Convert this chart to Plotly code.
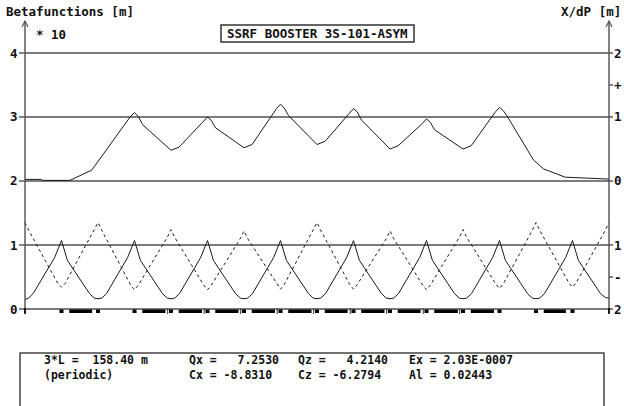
import plotly.graph_objects as go

# ---------------- data ----------------
L_TOTAL = 158.4

# horizontal beta function (solid), in units of 10 m
bx_s = [0.0, 1.0, 2.3, 8.0, 9.9, 11.5, 17.5, 18.8,
        19.8, 20.8, 22.1, 27.8, 29.7, 31.3, 37.3, 38.6,
        39.6, 40.6, 41.9, 47.6, 49.5, 51.1, 57.1, 58.4,
        59.4, 60.4, 61.7, 67.4, 69.3, 70.9, 76.9, 78.2,
        79.2, 80.2, 81.5, 87.2, 89.1, 90.7, 96.7, 98.0,
        99.0, 100.0, 101.3, 107.0, 108.9, 110.5, 116.5, 117.8,
        118.8, 119.8, 121.1, 126.8, 128.7, 130.3, 136.3, 137.6,
        138.6, 139.6, 140.9, 146.6, 148.5, 150.1, 156.1, 157.4,
        158.4]
bx_v = [0.15, 0.17, 0.25, 0.80, 1.07, 0.76, 0.24, 0.17,
        0.16, 0.17, 0.24, 0.80, 1.07, 0.76, 0.24, 0.17,
        0.16, 0.17, 0.24, 0.80, 1.07, 0.76, 0.24, 0.17,
        0.16, 0.17, 0.24, 0.80, 1.07, 0.76, 0.24, 0.17,
        0.16, 0.17, 0.24, 0.80, 1.07, 0.76, 0.24, 0.17,
        0.16, 0.17, 0.24, 0.80, 1.07, 0.76, 0.24, 0.17,
        0.16, 0.17, 0.24, 0.80, 1.07, 0.76, 0.24, 0.17,
        0.16, 0.17, 0.24, 0.80, 1.07, 0.76, 0.24, 0.18,
        0.17]

# vertical beta function (dotted), in units of 10 m
bz_s = [0.0, 1.0, 8.9, 9.9, 10.9, 18.8,
        19.8, 20.8, 28.7, 29.7, 30.7, 38.6,
        39.6, 40.6, 48.5, 49.5, 50.5, 58.4,
        59.4, 60.4, 68.3, 69.3, 70.3, 78.2,
        79.2, 80.2, 88.1, 89.1, 90.1, 98.0,
        99.0, 100.0, 107.9, 108.9, 109.9, 117.8,
        118.8, 119.8, 127.7, 128.7, 129.7, 137.6,
        138.6, 139.6, 147.5, 148.5, 149.5, 157.4,
        158.4]
bz_v = [1.35, 1.23, 0.40, 0.34, 0.40, 1.23,
        1.35, 1.23, 0.37, 0.30, 0.37, 1.12,
        1.24, 1.12, 0.37, 0.30, 0.37, 1.10,
        1.22, 1.10, 0.38, 0.31, 0.38, 1.23,
        1.35, 1.23, 0.38, 0.31, 0.38, 1.10,
        1.22, 1.10, 0.37, 0.30, 0.37, 1.12,
        1.24, 1.12, 0.39, 0.32, 0.39, 1.23,
        1.35, 1.23, 0.41, 0.34, 0.41, 1.23,
        1.35]

# dispersion X/dP [m]
d_s = [0.0, 4.5, 4.8, 12.2, 18.1, 28.5, 29.7, 30.7, 31.9,
       39.6, 41.8, 48.4, 49.5, 50.5, 51.7,
       59.4, 61.6, 68.2, 69.3, 70.3, 71.5,
       79.2, 81.4, 88.0, 89.1, 90.1, 91.3,
       99.0, 101.2, 107.8, 108.9, 109.9, 111.1,
       118.8, 121.0, 127.6, 128.7, 129.7, 130.6,
       137.9, 140.6, 146.5, 151.0, 158.4]
d_v = [0.025, 0.025, 0.01, 0.01, 0.17, 1.00, 1.07, 1.01, 0.88,
       0.48, 0.53, 0.93, 1.00, 0.95, 0.83,
       0.52, 0.57, 1.13, 1.20, 1.14, 1.02,
       0.57, 0.62, 1.06, 1.13, 1.08, 0.95,
       0.50, 0.55, 0.90, 0.97, 0.92, 0.80,
       0.50, 0.55, 1.08, 1.15, 1.10, 1.03,
       0.33, 0.19, 0.06, 0.05, 0.03]

# lattice elements
quad_s = [9.9, 19.8, 29.7, 39.6, 49.5, 59.4, 69.3, 79.2, 89.1, 99.0,
          108.9, 118.8, 128.7, 138.6, 148.5]
end_marks = [0.0, 158.4]
dip_start = [12.0, 31.8, 41.7, 51.6, 61.5, 71.4, 81.3, 91.2, 101.1, 111.0, 120.9, 140.7]
dip_end = [18.2, 38.1, 48.0, 57.9, 67.8, 77.7, 87.5, 97.5, 107.3, 117.4, 127.2, 146.7]
sext_s = [38.7, 48.6, 58.5, 68.4, 78.3, 88.2, 98.1, 108.0, 117.9]

left_ticks = [0, 1, 2, 3, 4]
left_labels = ["0", "1", "2", "3", "4"]
right_labels = ["2", "+", "1", "0", "1", "-", "2"]
right_label_vals = [4.0, 3.5, 3.0, 2.0, 1.0, 0.5, 0.0]

title_text = "SSRF BOOSTER 3S-101-ASYM"
info_col0 = ["3*L =  158.40 m", "(periodic)"]
info_col1 = ["Qx =   7.2530", "Cx = -8.8310"]
info_col2 = ["Qz =   4.2140", "Cz = -6.2794"]
info_col3 = ["Ex = 2.03E-0007", "Al = 0.02443"]

# ---------------- geometry ----------------
W, H = 624, 406
X0, X1 = 25, 609      # pixel of s=0 and s=L
Y0, PPU = 309, 64     # pixel of value 0, pixels per unit
k = L_TOTAL / (X1 - X0)
xr = [-X0 * k, (W - X0) * k]
yr = [(Y0 - H) / PPU, Y0 / PPU]

def PX(px):
    return px / W

def PY(py):
    return 1 - py / H

def vy(v):
    return Y0 - v * PPU

FONT = "DejaVu Sans Mono"
TC = "#111111"
GRID = "#505050"

fig = go.Figure()
fig.add_trace(go.Scatter(x=d_s, y=[2 + v for v in d_v], mode="lines",
                         line=dict(color="#1a1a1a", width=1), hoverinfo="skip"))
fig.add_trace(go.Scatter(x=bz_s, y=bz_v, mode="lines",
                         line=dict(color="#1a1a1a", width=1, dash="dot"), hoverinfo="skip"))
fig.add_trace(go.Scatter(x=bx_s, y=bx_v, mode="lines",
                         line=dict(color="#1a1a1a", width=1), hoverinfo="skip"))

shapes = []
for t in left_ticks:
    shapes.append(dict(type="line", xref="x", yref="y", x0=0, x1=L_TOTAL, y0=t, y1=t,
                       line=dict(color=GRID, width=1.4), layer="below"))
for ax in (X0, X1):
    shapes.append(dict(type="line", xref="paper", yref="paper", x0=PX(ax), x1=PX(ax),
                       y0=PY(313), y1=PY(21), line=dict(color=GRID, width=1.4)))
    shapes.append(dict(type="path", xref="paper", yref="paper",
                       path=f"M {PX(ax-3)} {PY(27)} L {PX(ax)} {PY(21)} L {PX(ax+3)} {PY(27)}",
                       line=dict(color=GRID, width=1.2)))
for t in left_ticks:
    shapes.append(dict(type="line", xref="paper", yref="paper", x0=PX(19), x1=PX(X0),
                       y0=PY(vy(t)), y1=PY(vy(t)), line=dict(color=GRID, width=1.4)))
for v in right_label_vals:
    shapes.append(dict(type="line", xref="paper", yref="paper", x0=PX(X1), x1=PX(613),
                       y0=PY(vy(v)), y1=PY(vy(v)), line=dict(color=GRID, width=1.4)))
for a, b in zip(dip_start, dip_end):
    shapes.append(dict(type="rect", xref="x", yref="paper", x0=a, x1=b,
                       y0=PY(313), y1=PY(309.5), fillcolor="black", line=dict(width=0)))
for q in quad_s:
    shapes.append(dict(type="rect", xref="x", yref="paper", x0=q - 0.55, x1=q + 0.55,
                       y0=PY(313), y1=PY(309.5), fillcolor="black", line=dict(width=0)))
for e in end_marks:
    shapes.append(dict(type="line", xref="x", yref="paper", x0=e, x1=e,
                       y0=PY(314), y1=PY(308), line=dict(color="black", width=1.6)))
for sx in sext_s:
    shapes.append(dict(type="line", xref="x", yref="paper", x0=sx, x1=sx,
                       y0=PY(314), y1=PY(308.5), line=dict(color="#333333", width=1)))
shapes.append(dict(type="rect", xref="paper", yref="paper", x0=PX(221), x1=PX(414),
                   y0=PY(42), y1=PY(25), line=dict(color="#333333", width=1.5)))
shapes.append(dict(type="rect", xref="paper", yref="paper", x0=PX(20), x1=PX(604),
                   y0=PY(412), y1=PY(353), line=dict(color="#444444", width=1.5)))

ann = []

def text(s, px, py, anchor="left", size=12.5):
    ann.append(dict(text=f"<b>{s}</b>", xref="paper", yref="paper", x=PX(px), y=PY(py),
                    xanchor=anchor, yanchor="middle", showarrow=False, align="left",
                    borderpad=0, font=dict(family=FONT, size=size, color=TC)))

text("Betafunctions [m]", 5, 11)
text("X/dP [m]", 622, 11, anchor="right")
text("* 10", 35, 34)
text(title_text, 317.5, 33.5, anchor="center")
for t, lab in zip(left_ticks, left_labels):
    text(lab, 14, vy(t), anchor="center")
for v, lab in zip(right_label_vals, right_labels):
    text(lab, 618, vy(v), anchor="center")
for col, px in zip([info_col0, info_col1, info_col2, info_col3], [43, 188, 297, 408]):
    text("<br>".join(f"<b>{c}</b>" for c in col).replace("<b>", "").replace("</b>", ""),
         px, 367, size=11.5)

fig.update_layout(
    width=W, height=H, margin=dict(l=0, r=0, t=0, b=0),
    paper_bgcolor="white", plot_bgcolor="white", showlegend=False,
    xaxis=dict(range=xr, visible=False, fixedrange=True),
    yaxis=dict(range=yr, visible=False, fixedrange=True),
    shapes=shapes, annotations=ann,
)
fig.write_html("out.html", config={"displayModeBar": False},
               post_script="document.body.style.margin='0px';")
